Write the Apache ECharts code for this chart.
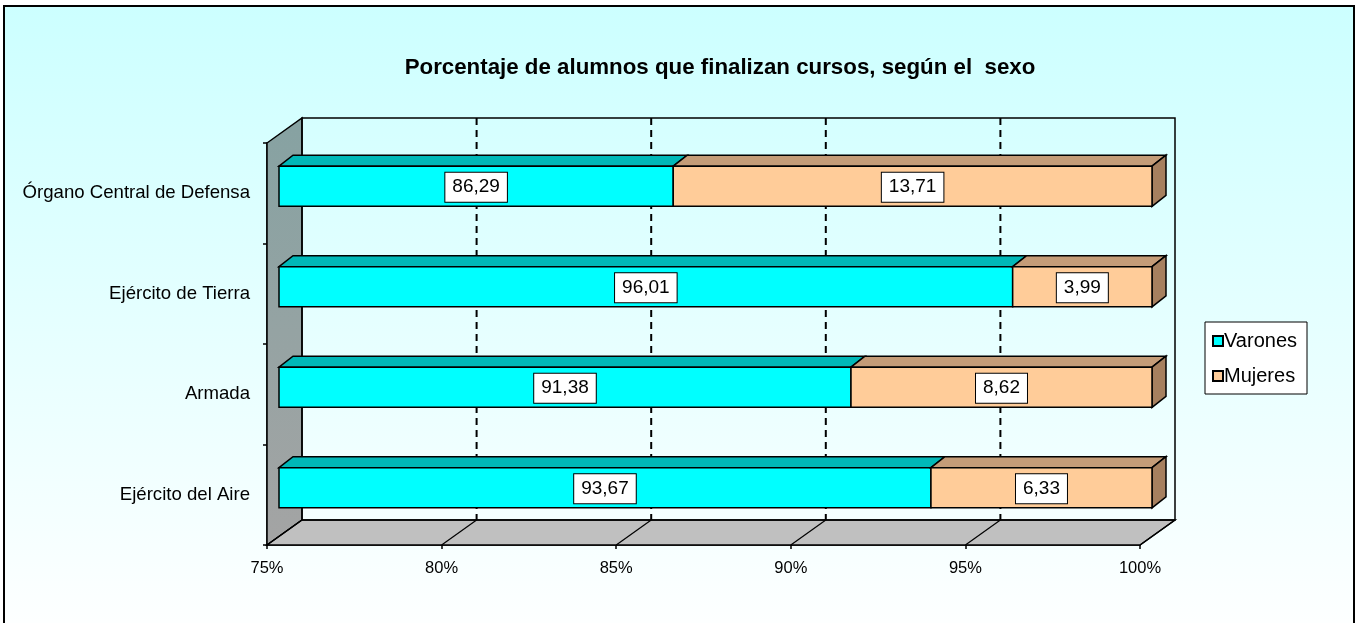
<!DOCTYPE html>
<html>
<head>
<meta charset="utf-8">
<script src="https://cdn.jsdelivr.net/npm/echarts@6/dist/echarts.min.js"></script>
<style>html,body{margin:0;padding:0;background:#fff}#c{width:1360px;height:623px}</style>
</head>
<body>
<div id="c"></div>
<script>
const categories = ['Órgano Central de Defensa', 'Ejército de Tierra', 'Armada', 'Ejército del Aire'];
const varones = [86.29, 96.01, 91.38, 93.67];
const mujeres = [13.71, 3.99, 8.62, 6.33];
const xTicks = [75, 80, 85, 90, 95, 100];
const titleText = 'Porcentaje de alumnos que finalizan cursos, según el  sexo';

const DEPTH = [35, -25];      // wall depth offset
const BAR_FRONT = [12, -7];   // bar front face offset
const BAR_DEPTH = [14, -11];  // bar thickness offset
const FONT = 'Arial, "Liberation Sans", sans-serif';

const chart = echarts.init(document.getElementById('c'), null, {renderer: 'canvas'});

function fmt(v) { return v.toFixed(2).replace('.', ','); }

function wallsRender(params, api) {
  const cs = params.coordSys;
  const x0 = cs.x, y0 = cs.y, x1 = cs.x + cs.width, y1 = cs.y + cs.height;
  const dx = DEPTH[0], dy = DEPTH[1];
  const children = [];
  children.push({type: 'polygon', shape: {points: [[x0, y0], [x0 + dx, y0 + dy], [x0 + dx, y1 + dy], [x0, y1]]},
    style: {fill: new echarts.graphic.LinearGradient(0, 0, 0, 1, [{offset: 0, color: '#86A2A2'}, {offset: 1, color: '#A4A4A4'}]), stroke: '#000', lineWidth: 1.5}});
  children.push({type: 'polygon', shape: {points: [[x0, y1], [x0 + dx, y1 + dy], [x1 + dx, y1 + dy], [x1, y1]]},
    style: {fill: '#C0C0C0', stroke: '#000', lineWidth: 1.5}});
  children.push({type: 'rect', shape: {x: x0 + dx, y: y0 + dy, width: x1 - x0, height: y1 - y0},
    style: {fill: 'rgba(0,0,0,0)', stroke: '#000', lineWidth: 1.5}});
  xTicks.forEach(function (t) {
    const px = api.coord([t, 0])[0];
    if (t !== xTicks[0] && t !== xTicks[xTicks.length - 1]) {
      children.push({type: 'line', shape: {x1: px + dx, y1: y0 + dy, x2: px + dx, y2: y1 + dy},
        style: {stroke: '#000', lineWidth: 2, lineDash: [7, 5]}});
    }
    children.push({type: 'line', shape: {x1: px, y1: y1, x2: px + dx, y2: y1 + dy},
      style: {stroke: '#000', lineWidth: 1.2}});
  });
  return {type: 'group', children: children};
}

function makeBarRender(front, top, side, drawSide) {
  return function (params, api) {
    const s = Math.max(api.value(0), xTicks[0]);
    const e = Math.min(api.value(1), xTicks[xTicks.length - 1]);
    const ci = api.value(2);
    const val = api.value(3);
    const ps = api.coord([s, ci]);
    const pe = api.coord([e, ci]);
    const band = api.size([0, 1])[1];
    const h = band * 0.4;
    const xa = ps[0] + BAR_FRONT[0], xb = pe[0] + BAR_FRONT[0];
    const yt = ps[1] + BAR_FRONT[1] - h / 2, yb = yt + h;
    const ddx = BAR_DEPTH[0], ddy = BAR_DEPTH[1];
    const ch = [];
    ch.push({type: 'polygon', shape: {points: [[xa, yt], [xa + ddx, yt + ddy], [xb + ddx, yt + ddy], [xb, yt]]},
      style: {fill: top, stroke: '#000', lineWidth: 1.5}});
    if (drawSide) {
      ch.push({type: 'polygon', shape: {points: [[xb, yt], [xb + ddx, yt + ddy], [xb + ddx, yb + ddy], [xb, yb]]},
        style: {fill: side, stroke: '#000', lineWidth: 1.5}});
    }
    ch.push({type: 'rect', shape: {x: xa, y: yt, width: xb - xa, height: h},
      style: {fill: front, stroke: '#000', lineWidth: 1.5}});
    ch.push({type: 'text', style: {text: fmt(val), x: (xa + xb) / 2, y: (yt + yb) / 2 + 1,
      align: 'center', verticalAlign: 'middle', font: '19px ' + FONT, fill: '#000',
      backgroundColor: '#fff', borderColor: '#000', borderWidth: 1, padding: [6, 7, 4, 7]}});
    return {type: 'group', children: ch};
  };
}

const varData = varones.map(function (v, i) { return [0, v, i, v]; });
const mujData = mujeres.map(function (m, i) { return [varones[i], varones[i] + m, i, m]; });

chart.setOption({
  backgroundColor: '#ffffff',
  animation: false,
  graphic: [{
    type: 'rect', z: -10, silent: true,
    shape: {x: 4, y: 6, width: 1350, height: 640},
    style: {fill: new echarts.graphic.LinearGradient(0, 0, 0, 1, [{offset: 0, color: '#CCFFFF'}, {offset: 1, color: '#FFFFFF'}]), stroke: '#000', lineWidth: 2}
  }],
  title: {
    text: titleText, left: 715, top: 52, textAlign: 'center',
    textStyle: {fontFamily: FONT, fontSize: 22.3, fontWeight: 'bold', color: '#000'}
  },
  legend: {
    data: ['Varones', 'Mujeres'], orient: 'vertical', left: 1205, top: 322,
    backgroundColor: '#fff', borderColor: '#000', borderWidth: 1, borderRadius: 0,
    padding: [9, 10, 8, 7], itemWidth: 10, itemHeight: 10, itemGap: 15, icon: 'rect',
    itemStyle: {borderColor: '#000', borderWidth: 2},
    textStyle: {fontFamily: FONT, fontSize: 20, color: '#000', padding: [0, 0, 0, -4]}
  },
  grid: {left: 267, top: 143, width: 873, height: 402, containLabel: false},
  xAxis: {
    type: 'value', min: 75, max: 100, interval: 5,
    axisLine: {show: true, lineStyle: {color: '#000', width: 1.5}},
    axisTick: {show: true, length: 4, lineStyle: {color: '#000', width: 1.5}},
    splitLine: {show: false},
    axisLabel: {formatter: function (v) { return v + '%'; }, fontFamily: FONT, fontSize: 16.5, color: '#000', margin: 15}
  },
  yAxis: {
    type: 'category', data: categories, inverse: true,
    axisLine: {show: true, lineStyle: {color: '#000', width: 1.5}},
    axisTick: {show: true, length: 4, lineStyle: {color: '#000', width: 1.5}},
    splitLine: {show: false},
    axisLabel: {fontFamily: FONT, fontSize: 18.6, color: '#000', margin: 17}
  },
  series: [
    {type: 'custom', name: 'walls', data: [[75, 0, 0, 0]], renderItem: wallsRender, z: 1, silent: true, clip: false,
      encode: {x: 0, y: 1}},
    {type: 'custom', name: 'Varones', data: varData, itemStyle: {color: '#00FFFF'}, z: 3, clip: false,
      renderItem: makeBarRender('#00FFFF', '#00B8B8', '#009999', false), encode: {x: [0, 1], y: 2}},
    {type: 'custom', name: 'Mujeres', data: mujData, itemStyle: {color: '#FFCC99'}, z: 3, clip: false,
      renderItem: makeBarRender('#FFCC99', '#C49C78', '#A6805F', true), encode: {x: [0, 1], y: 2}}
  ]
});
</script>
</body>
</html>
